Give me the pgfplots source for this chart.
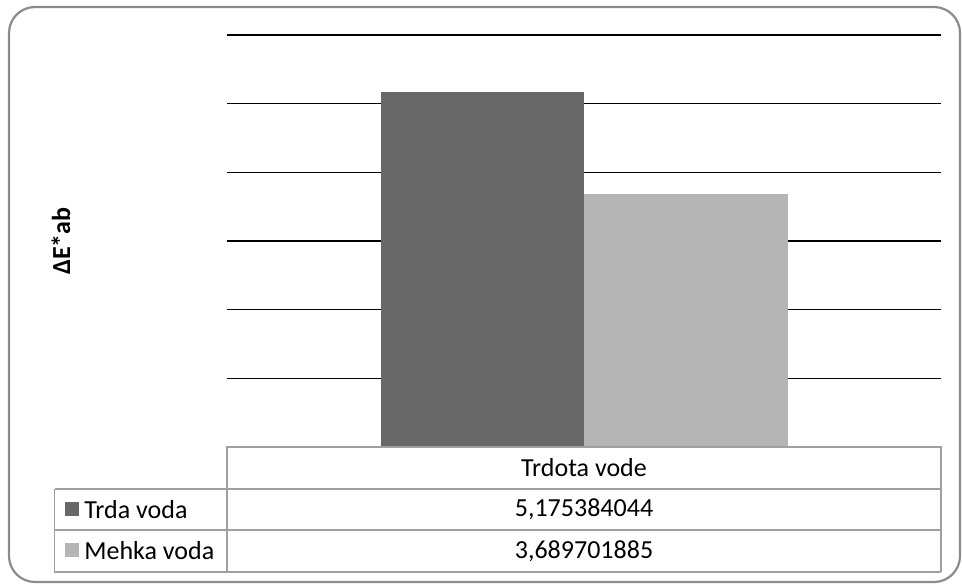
\documentclass[border=0pt]{standalone}
\usepackage{pgfplots}
\pgfplotsset{compat=1.18}
\usepackage{fontspec}
\setmainfont{Carlito}
\definecolor{barDark}{HTML}{686868}
\definecolor{barLight}{HTML}{B5B5B5}
\definecolor{tableLine}{HTML}{A0A0A0}
\definecolor{frameLine}{HTML}{8C8C8C}
\begin{document}
\fontsize{13}{15.5}\selectfont
% one unit = one pixel of the 962 x 583 layout, y running downwards
\begin{tikzpicture}[x=0.5pt,y=-0.5pt]
  \path (0,0) rectangle (962,583);
  \draw[frameLine, line width=1.1pt, rounded corners=13pt] (9,7) rectangle (960,582);
  \coordinate (plotSW) at (227,447);

  \begin{axis}[
      at={(plotSW)}, anchor=south west,
      scale only axis, width=357pt, height=206pt,
      xmin=-0.5, xmax=0.5, ymin=0, ymax=6,
      axis line style={draw=none},
      xtick=\empty,
      ytick={1,2,3,4,5,6}, yticklabels={},
      major tick length=0pt,
      ymajorgrids, major grid style={black, line width=0.6pt},
      ybar=0pt, bar width=101.75pt,
      clip=false,
    ]
    \addplot[fill=barDark, draw=none] coordinates {(0,5.175384044)};
    \addplot[fill=barLight, draw=none] coordinates {(0,3.689701885)};
  \end{axis}

  % axis title
  \node[rotate=90, font=\bfseries] at (61,241) {ΔE*ab};

  % data table below the plot
  \begin{scope}[tableLine, line width=0.65pt]
    \draw (227,572) -- (227,447) -- (941,447) -- (941,572);
    \draw (54.5,489) -- (941,489);
    \draw (54.5,530) -- (941,530);
    \draw (54.5,489) -- (54.5,572) -- (941,572);
  \end{scope}
  \node at (584,468) {Trdota vode};
  \node at (584,509.5) {5,175384044};
  \node at (584,551) {3,689701885};
  \fill[barDark] (65,502) rectangle (79,516);
  \fill[barLight] (65,543) rectangle (79,557);
  \node[anchor=west, inner sep=0pt] at (84,509.5) {Trda voda};
  \node[anchor=west, inner sep=0pt] at (84,551) {Mehka voda};
\end{tikzpicture}
\end{document}
